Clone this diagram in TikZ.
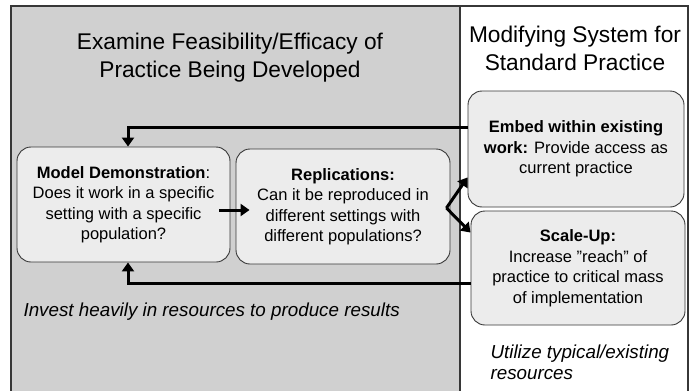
\documentclass[tikz,border=0pt]{standalone}
\usepackage{fontspec}
\setmainfont{Liberation Sans}
\usetikzlibrary{arrows.meta}
\definecolor{panelgray}{RGB}{208,208,208}
\definecolor{boxfill}{RGB}{236,236,236}
\definecolor{framegray}{RGB}{55,55,55}
\begin{document}
\begin{tikzpicture}[x=1pt,y=-1pt,
  box/.style={draw=framegray, line width=0.9pt, fill=boxfill, rounded corners=14pt,
    align=center, inner sep=0pt, font=\fontsize{16.5}{20.5}\selectfont},
  flow/.style={line width=3pt, -{Triangle[length=9pt,width=12pt]}},
  heading/.style={align=center, font=\fontsize{22.7}{28}\selectfont},
  note/.style={anchor=west, align=left, font=\fontsize{18.8}{21}\selectfont\itshape}]
\useasboundingbox (0,0) rectangle (694,391);
% two panels and their frame
\fill[panelgray] (11,6) rectangle (460,395);
\fill[white] (460,6) rectangle (688,395);
\draw[framegray, line width=1.5pt] (11,395) -- (11,6) -- (688,6) -- (688,395);
\draw[framegray, line width=1.2pt] (460,6) -- (460,395);

% headings
\node[heading] (lefttitle) at (230,58) {Examine Feasibility/Efficacy of\\Practice Being Developed};
\node[heading] (righttitle) at (575,48) {Modifying System for\\Standard Practice};

% stages
\node[box, minimum width=213pt, minimum height=115pt] (model) at (123.5,204.5)
  {\textbf{Model Demonstration}:\\Does it work in a specific\\setting with a specific\\population?};
\node[box, minimum width=214pt, minimum height=115pt] (repl) at (343,206.5)
  {\textbf{Replications:}\\Can it be reproduced in\\different settings with\\different populations?};
\node[box, minimum width=216pt, minimum height=116pt] (embed) at (576,149)
  {\textbf{Embed within existing}\\\textbf{work:} Provide access as\\current practice};
\node[box, minimum width=214pt, minimum height=114pt] (scale) at (578,268)
  {\textbf{Scale-Up:}\\Increase \symbol{34}reach\symbol{34} of\\practice to critical mass\\of implementation};

% notes
\node[note] (invest) at (20,312) {Invest heavily in resources to produce results};
\node[note] (utilize) at (487,362) {Utilize typical/existing\\resources};

% connectors
\draw[flow, shorten <=-11pt, shorten >=-14pt]
  ([yshift=-5.5pt]model.east) -- ([yshift=-5.5pt]model.east -| repl.west);
\coordinate (fork) at ([xshift=-4pt,yshift=-1.5pt]repl.east);
\draw[flow] (fork) -- ([yshift=30pt]embed.south west);
\draw[flow] (fork) -- ([yshift=-22pt]scale.north west);
\draw[flow] ([yshift=22pt]embed.west) -| ([xshift=4.5pt]model.north);
\draw[flow] ([yshift=-15pt]scale.west) -| ([xshift=4.5pt]model.south);
\end{tikzpicture}
\end{document}
